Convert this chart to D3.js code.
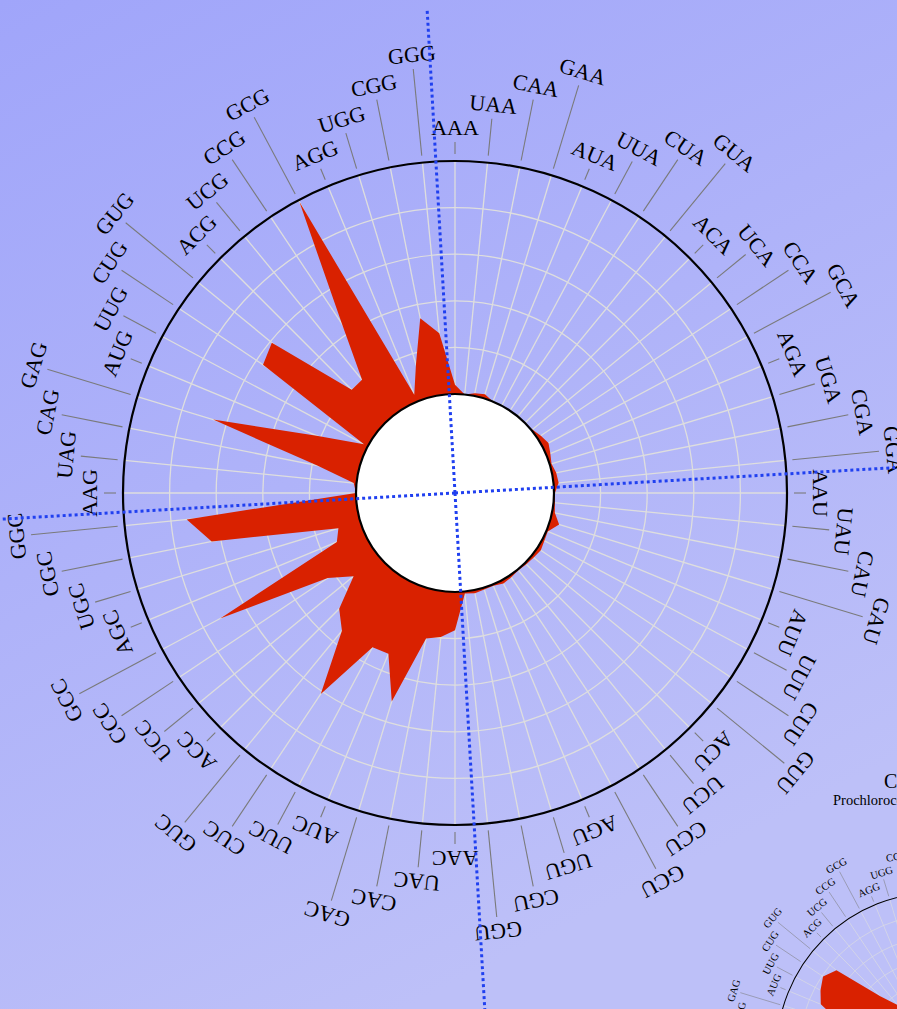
<!DOCTYPE html>
<html>
<head>
<meta charset="utf-8">
<script src="https://cdn.jsdelivr.net/npm/d3@7"></script>
<style>
  html, body { margin: 0; padding: 0; overflow: hidden; }
  svg { display: block; }
</style>
</head>
<body>
<svg id="chart" width="897" height="1009"></svg>
<script>
// Codons, ordered by third base, then second, then first (A, U, C, G)
const codons = [
  "AAA","UAA","CAA","GAA","AUA","UUA","CUA","GUA","ACA","UCA","CCA","GCA","AGA","UGA","CGA","GGA",
  "AAU","UAU","CAU","GAU","AUU","UUU","CUU","GUU","ACU","UCU","CCU","GCU","AGU","UGU","CGU","GGU",
  "AAC","UAC","CAC","GAC","AUC","UUC","CUC","GUC","ACC","UCC","CCC","GCC","AGC","UGC","CGC","GGC",
  "AAG","UAG","CAG","GAG","AUG","UUG","CUG","GUG","ACG","UCG","CCG","GCG","AGG","UGG","CGG","GGG"
];

// Codon usage of the large chart
const usageMain = [
  2.0, 0.0, 0.6, 0.9, 0.0, 0.0, 0.0, 0.0, 0.0, 0.2, 0.9, 1.5, 0.9, 0.4, 0.9, 1.1,
  0.2, 0.3, 0.6, 2.1, 0.3, 0.5, 0.9, 0.6, 0.4, 0.2, 0.5, 0.8, 0.3, 0.4, 0.7, 0.4,
  8.2, 9.8, 10.6, 25.5, 16.1, 16.3, 30.6, 17.0, 13.9, 6.9, 11.6, 35.9, 6.2, 4.9, 32.0, 36.6,
  0.0, 0.6, 8.9, 33.0, 10.9, 0.9, 28.3, 29.6, 10.1, 10.2, 22.4, 49.6, 1.6, 7.6, 17.0, 13.2
];

// Codon usage of the small chart (Prochlorococcus)
const usageSmall = [
  12, 1, 10, 18, 4, 6, 5, 4, 6, 5, 7, 9, 3, 1, 3, 6,
  8, 7, 5, 14, 10, 9, 8, 7, 5, 6, 6, 10, 5, 2, 5, 9,
  13, 10, 7, 19, 17, 14, 12, 12, 15, 8, 9, 25, 9, 3, 10, 19,
  22, 1, 16, 23, 34.5, 37.3, 39.5, 36.3, 14, 6, 8, 13, 4, 12, 6, 10
];

const gridTicks = [10, 20, 30, 40];
const smallTitle = ["Codon usage", "Prochlorococcus marinus MIT9313"];

const W = 897, H = 1009;
const innerR = 99, outerR = 332;
const labelBase = [358, 383, 408, 433];   // staggered label rings
const leaderStart = 339;

const svg = d3.select("#chart");

// Background
const defs = svg.append("defs");
const grad = defs.append("linearGradient").attr("id", "bg")
  .attr("x1", 0).attr("y1", 0).attr("x2", 0.45).attr("y2", 1);
grad.append("stop").attr("offset", 0).attr("stop-color", "#a0a5fa");
grad.append("stop").attr("offset", 1).attr("stop-color", "#bdc0f8");
svg.append("rect").attr("width", W).attr("height", H).attr("fill", "url(#bg)");

const rScale = d3.scaleLinear().domain([0, 50]).range([innerR, outerR]);
const aScale = d3.scaleBand().domain(codons).range([0, 2 * Math.PI]);
const deg = c => aScale(c) * 180 / Math.PI;
const polar = (a, r) => [r * Math.sin(a), -r * Math.cos(a)];

function drawRose(g, values, title) {
  const data = codons.map((c, i) => ({ codon: c, v: values[i], level: i % 4 }));

  // grid: spokes and rings
  const grid = g.append("g").attr("stroke", "#dedede").attr("stroke-width", 1.3).attr("fill", "none");
  grid.selectAll("line").data(data).join("line")
    .attr("x1", d => polar(aScale(d.codon), innerR)[0])
    .attr("y1", d => polar(aScale(d.codon), innerR)[1])
    .attr("x2", d => polar(aScale(d.codon), outerR)[0])
    .attr("y2", d => polar(aScale(d.codon), outerR)[1]);
  grid.selectAll("circle").data(gridTicks).join("circle")
    .attr("r", t => rScale(t));

  // usage profile
  const line = d3.lineRadial()
    .angle(d => aScale(d.codon))
    .radius(d => rScale(d.v))
    .curve(d3.curveLinearClosed);
  g.append("path").datum(data).attr("d", line).attr("fill", "#d92100");

  // outer ring and hub
  g.append("circle").attr("r", outerR).attr("fill", "none").attr("stroke", "#000").attr("stroke-width", 2.2);
  g.append("circle").attr("r", innerR).attr("fill", "#fff").attr("stroke", "#000").attr("stroke-width", 2.2);

  // leaders and codon labels
  g.append("g").attr("stroke", "#7a7a7a").attr("stroke-width", 1.1)
    .selectAll("line").data(data).join("line")
    .attr("x1", d => polar(aScale(d.codon), leaderStart)[0])
    .attr("y1", d => polar(aScale(d.codon), leaderStart)[1])
    .attr("x2", d => polar(aScale(d.codon), labelBase[d.level] - 7)[0])
    .attr("y2", d => polar(aScale(d.codon), labelBase[d.level] - 7)[1]);

  g.append("g")
    .attr("font-family", "'Liberation Serif', 'Times New Roman', serif")
    .attr("font-size", 22).attr("fill", "#000").attr("text-anchor", "middle")
    .selectAll("text").data(data).join("text")
    .attr("transform", d => `rotate(${deg(d.codon)}) translate(0,${-labelBase[d.level]})`)
    .text(d => d.codon);

  if (title) {
    const t = g.append("g").attr("font-family", "'Liberation Serif', 'Times New Roman', serif")
      .attr("text-anchor", "middle").attr("fill", "#000");
    t.append("text").attr("y", -550).attr("font-size", 41.7).text(title[0]);
    t.append("text").attr("y", -514.6).attr("font-size", 30.2).text(title[1]);
  }
}

// small chart, lower right
const gSmall = svg.append("g").attr("transform", "translate(936,1052) scale(0.48)");
drawRose(gSmall, usageSmall, smallTitle);

// main chart
const gMain = svg.append("g").attr("transform", "translate(455,493)");
drawRose(gMain, usageMain, null);

// crosshair through the main chart centre
const crossTilt = -3.3 * Math.PI / 180;
const crossArms = [
  { a: 0, len: 486 }, { a: Math.PI, len: 560 },
  { a: -Math.PI / 2, len: 454 }, { a: Math.PI / 2, len: 480 }
];
gMain.append("g").attr("stroke", "#2040f0").attr("stroke-width", 3).attr("stroke-dasharray", "3 3")
  .selectAll("line").data(crossArms).join("line")
  .attr("x1", 0).attr("y1", 0)
  .attr("x2", d => polar(d.a + crossTilt, d.len)[0])
  .attr("y2", d => polar(d.a + crossTilt, d.len)[1]);
</script>
</body>
</html>
